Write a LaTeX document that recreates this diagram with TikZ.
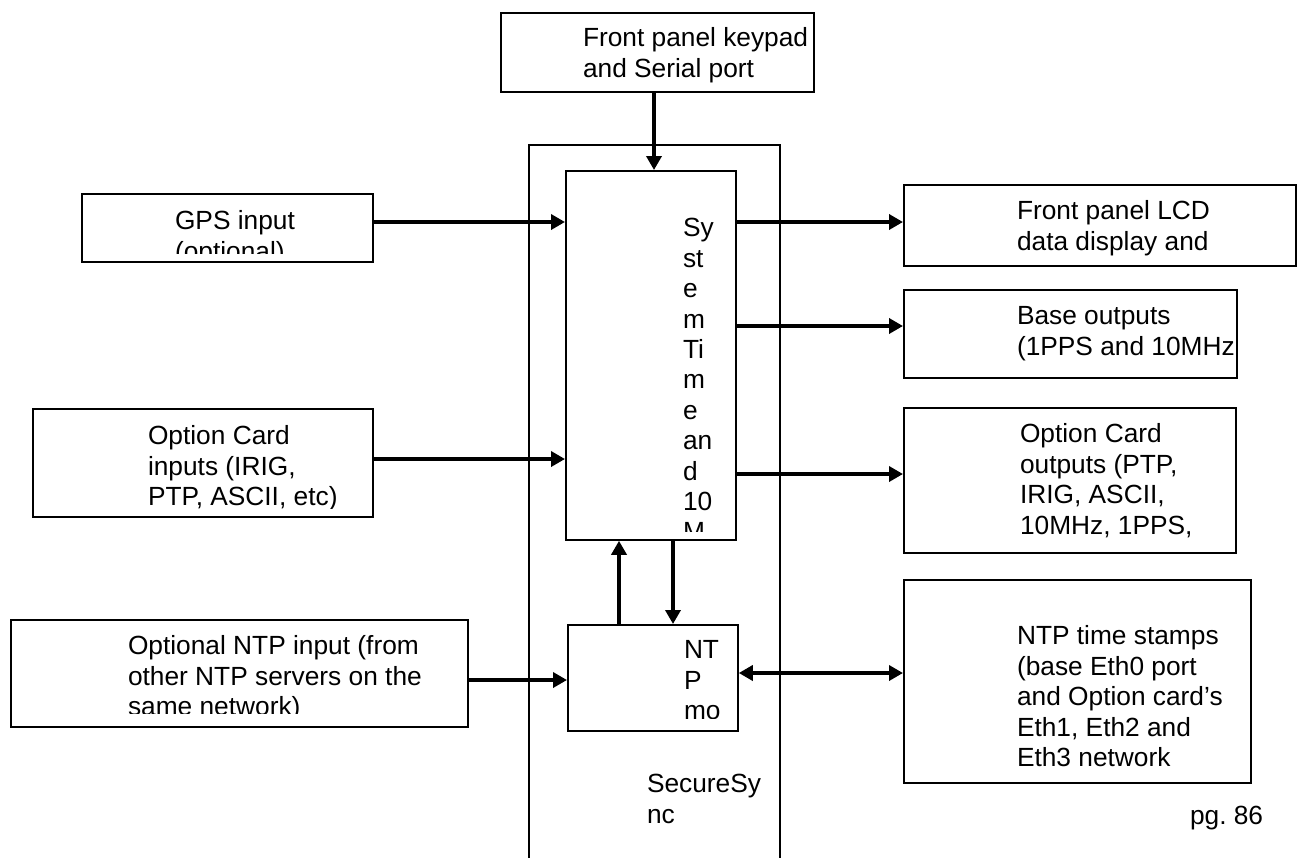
\documentclass[tikz,border=0pt]{standalone}
\usepackage{fontspec}
\setmainfont{Liberation Sans}
\usetikzlibrary{arrows.meta}
\frenchspacing
\begin{document}
\begin{tikzpicture}[x=1pt,y=1pt,
  box/.style={draw, line width=1.8pt, rectangle, inner sep=0pt, anchor=north west},
  txt/.style={anchor=north west, inner sep=0pt, outer sep=0pt, align=left, yshift=21.3pt,
              font=\fontsize{26.3}{30.4}\selectfont},
  arr/.style={line width=3.6pt, -{Triangle[length=14pt,width=15pt]}},
  darr/.style={line width=3.6pt, {Triangle[length=14pt,width=15pt]}-{Triangle[length=14pt,width=15pt]}}]
\useasboundingbox (0,0) rectangle (1300,-857);
% outer SecureSync frame (open at the bottom)
\draw[line width=1.6pt] (529,-860) |- (780,-145) -- (780,-860);
% boxes
\node[box, minimum width=313pt, minimum height=79pt]  (top)   at (500,-12)  {};
\node[box, minimum width=170pt, minimum height=369pt] (sys)   at (565,-170) {};
\node[box, minimum width=291pt, minimum height=68pt]  (gps)   at (81,-193)  {};
\node[box, minimum width=392pt, minimum height=81pt]  (lcd)   at (903,-184) {};
\node[box, minimum width=333pt, minimum height=88pt]  (base)  at (903,-289) {};
\node[box, minimum width=340pt, minimum height=108pt] (optin) at (32,-408)  {};
\node[box, minimum width=332pt, minimum height=145pt] (optout) at (903,-407) {};
\node[box, minimum width=457pt, minimum height=107pt] (ntpin) at (10,-619)  {};
\node[box, minimum width=170pt, minimum height=106pt] (ntpm)  at (567,-624) {};
\node[box, minimum width=347pt, minimum height=203pt] (ntpts) at (903,-579) {};
% texts (clipped by their boxes)
\begin{scope}
  \clip (top.north west) rectangle ([yshift=9pt]top.south east);
  \node[txt] (toptxt) at (583,-47) {\strut Front panel keypad\\and Serial port};
\end{scope}
\begin{scope}
  \clip (sys.north west) rectangle ([yshift=9pt]sys.south east);
  \node[txt] (systxt) at (683,-237) {\strut Sy\\st\\e\\m\\Ti\\m\\e\\an\\d\\10\\M};
\end{scope}
\begin{scope}
  \clip (gps.north west) rectangle ([yshift=9pt]gps.south east);
  \node[txt] (gpstxt) at (175,-230) {\strut GPS input\\(optional)};
\end{scope}
\begin{scope}
  \clip (lcd.north west) rectangle ([yshift=9pt]lcd.south east);
  \node[txt] (lcdtxt) at (1017,-220) {\strut Front panel LCD\\data display and};
\end{scope}
\begin{scope}
  \clip (base.north west) rectangle ([yshift=9pt]base.south east);
  \node[txt] (basetxt) at (1017,-325) {\strut Base outputs\\(1PPS and 10MHz};
\end{scope}
\begin{scope}
  \clip (optin.north west) rectangle ([yshift=9pt]optin.south east);
  \node[txt] (optintxt) at (148,-445) {\strut Option Card\\inputs (IRIG,\\PTP, ASCII, etc)};
\end{scope}
\begin{scope}
  \clip (optout.north west) rectangle ([yshift=9pt]optout.south east);
  \node[txt] (optouttxt) at (1020,-443) {\strut Option Card\\outputs (PTP,\\IRIG, ASCII,\\10MHz, 1PPS,};
\end{scope}
\begin{scope}
  \clip (ntpin.north west) rectangle ([yshift=14pt]ntpin.south east);
  \node[txt] (ntpintxt) at (128,-655) {\strut Optional NTP input (from\\other NTP servers on the\\same network)};
\end{scope}
\begin{scope}
  \clip (ntpm.north west) rectangle ([yshift=13pt]ntpm.south east);
  \node[txt] (ntpmtxt) at (684,-659) {\strut NT\\P\\mo};
\end{scope}
\begin{scope}
  \clip (ntpts.north west) rectangle ([yshift=9pt]ntpts.south east);
  \node[txt] (ntptstxt) at (1017,-645) {\strut NTP time stamps\\(base Eth0 port\\and Option card’s\\Eth1, Eth2 and\\Eth3 network};
\end{scope}
\node[txt] (sstxt) at (647,-793) {\strut SecureSy\\nc};
\node[txt] (pgtxt) at (1190,-825) {\strut pg. 86};
% connectors
\draw[arr] (top.south -| 654,0) -- (sys.north -| 654,0);
\draw[arr] (gps.east |- 0,-222) -- (sys.west |- 0,-222);
\draw[arr] (optin.east |- 0,-459) -- (sys.west |- 0,-459);
\draw[arr] (ntpin.east |- 0,-680) -- (ntpm.west |- 0,-680);
\draw[arr] (sys.east |- 0,-222) -- (lcd.west |- 0,-222);
\draw[arr] (sys.east |- 0,-326) -- (base.west |- 0,-326);
\draw[arr] (sys.east |- 0,-474) -- (optout.west |- 0,-474);
\draw[darr] (ntpm.east |- 0,-673) -- (ntpts.west |- 0,-673);
\draw[arr] (ntpm.north -| 619,0) -- (sys.south -| 619,0);
\draw[arr] (sys.south -| 673,0) -- (ntpm.north -| 673,0);
\end{tikzpicture}
\end{document}
